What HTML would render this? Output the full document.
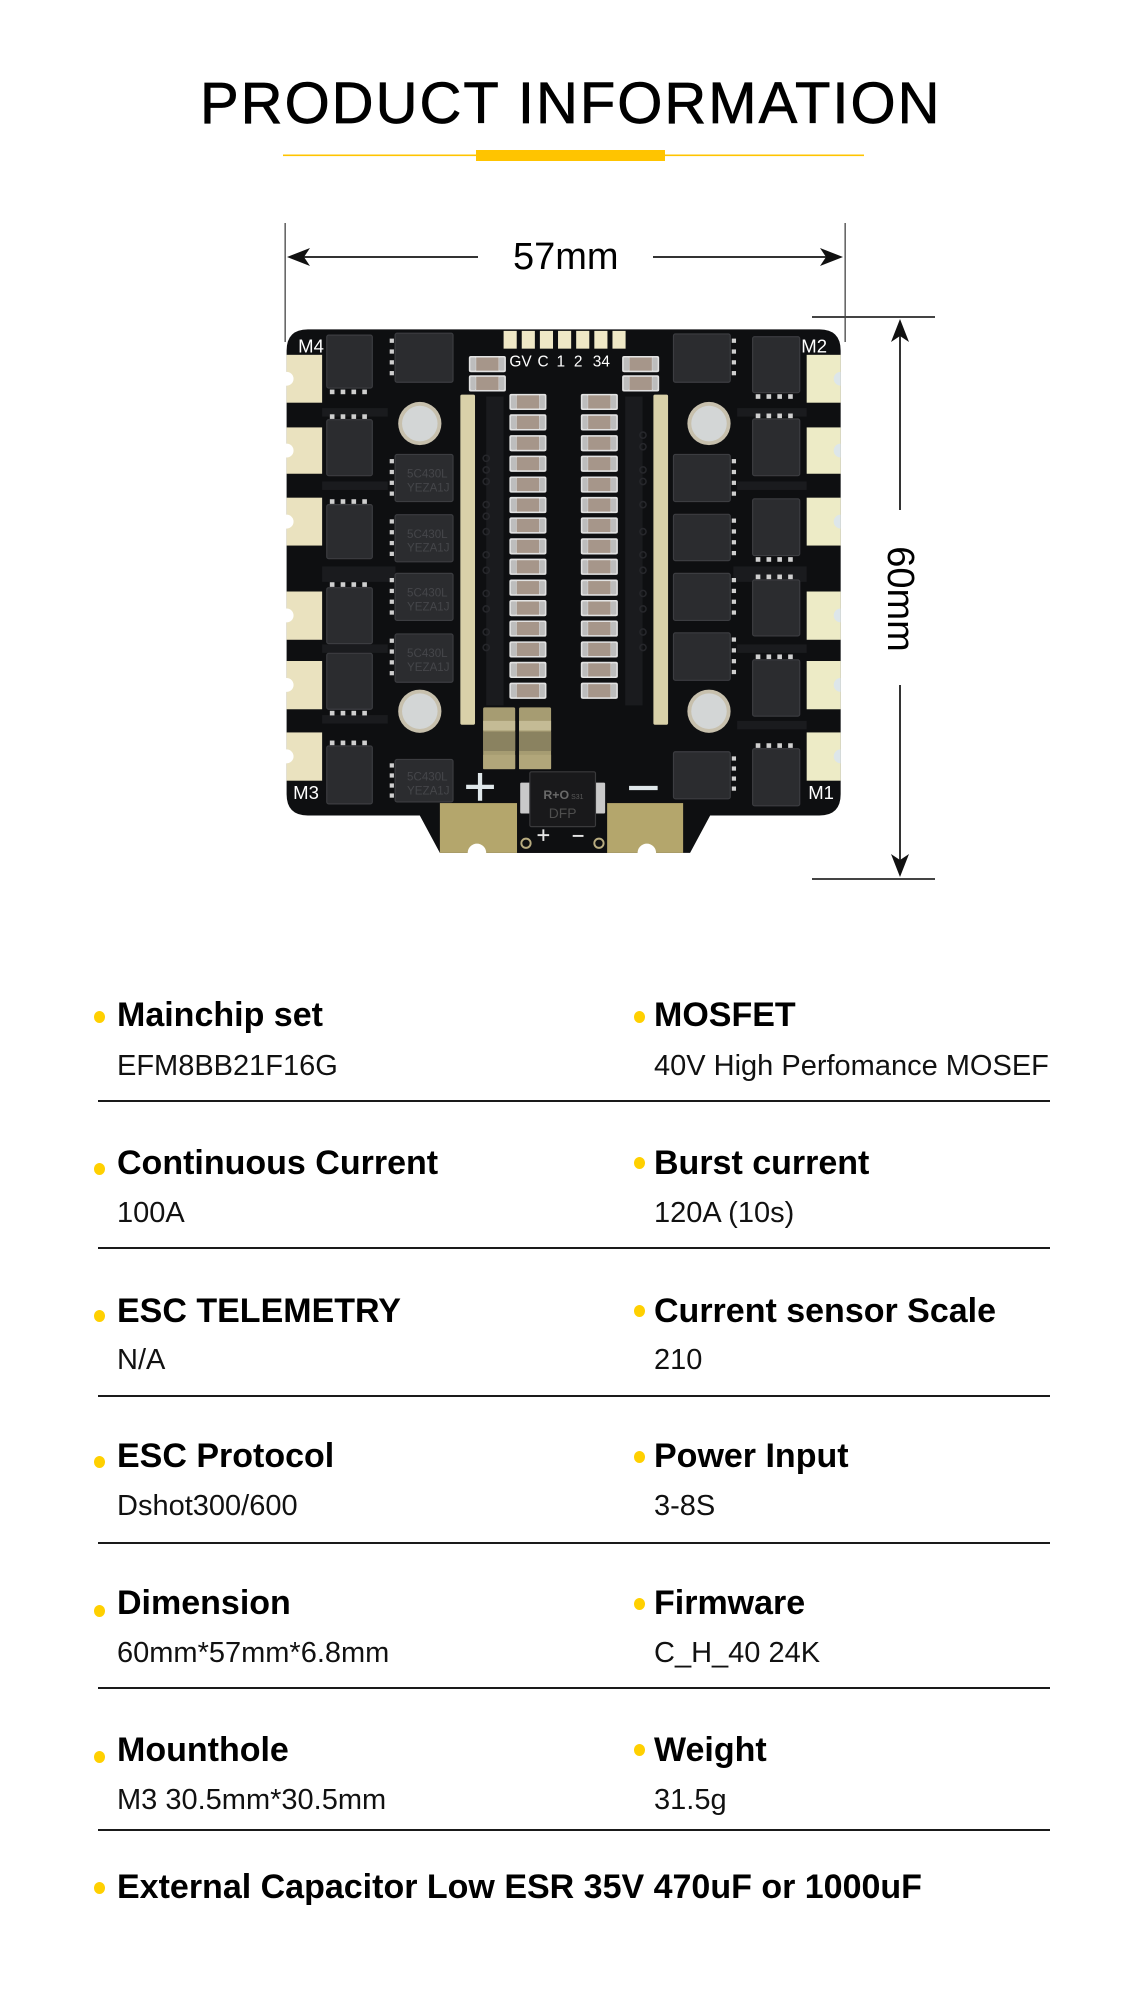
<!DOCTYPE html>
<html><head><meta charset="utf-8">
<style>
html,body{margin:0;padding:0;background:#fff;}
body{width:1138px;height:2011px;position:relative;overflow:hidden;font-family:"Liberation Sans",Arial,sans-serif;color:#000;}
.a{position:absolute;white-space:nowrap;}
.lab{font-weight:bold;font-size:34px;line-height:34px;}
.val{font-size:29px;line-height:29px;color:#111;}
.dot{position:absolute;width:11px;height:12px;border-radius:50%;background:#FFD000;}
.hr{position:absolute;left:98px;width:952px;height:1.5px;background:#1a1a1a;}
</style></head>
<body>

<div class="a" style="left:200px;top:75px;font-size:58px;line-height:58px;letter-spacing:2px;-webkit-text-stroke:0.7px #000;">PRODUCT INFORMATION</div>

<svg class="a" style="left:0;top:0" width="1138" height="900" viewBox="0 0 1138 900">
  <rect x="283" y="154.5" width="581" height="1.6" fill="#FFC400"/>
  <rect x="476" y="150" width="189" height="11" fill="#FFC400"/>
  <rect x="284.5" y="223" width="1.3" height="119" fill="#444"/>
  <rect x="844.5" y="223" width="1.3" height="119" fill="#444"/>
  <rect x="295" y="256" width="183" height="2" fill="#333"/>
  <rect x="653" y="256" width="180" height="2" fill="#333"/>
  <polygon points="287,257 310,248 304,257 310,266" fill="#111"/>
  <polygon points="843,257 820,248 826,257 820,266" fill="#111"/>
  <rect x="812" y="316" width="123" height="2" fill="#444"/>
  <rect x="812" y="878" width="123" height="2" fill="#444"/>
  <rect x="899" y="330" width="2" height="180" fill="#333"/>
  <rect x="899" y="685" width="2" height="182" fill="#333"/>
  <polygon points="900,319 891,342 900,336 909,342" fill="#111"/>
  <polygon points="900,877 891,854 900,860 909,854" fill="#111"/>
</svg>

<div class="a" style="left:513px;top:238px;font-size:38px;line-height:38px;">57mm</div>
<div class="a" style="left:847px;top:580px;width:106px;height:38px;font-size:38px;line-height:38px;text-align:center;transform:rotate(90deg);transform-origin:53px 19px;">60mm</div>

<svg class="a" style="left:270px;top:300px" width="600" height="600" viewBox="0 0 1554 1554">
  <defs>
    <g id="cap">
      <rect x="0" y="0" width="96" height="42" rx="5" fill="#e2e2e2"/>
      <rect x="4" y="4" width="14" height="34" rx="3" fill="#bdbdbd"/>
      <rect x="78" y="4" width="14" height="34" rx="3" fill="#bdbdbd"/>
      <rect x="19" y="4" width="58" height="34" fill="#a6968a"/>
    </g>
  </defs>
  <path d="M98,76 H1423 Q1478,76 1478,131 V1280 Q1478,1335 1423,1335 H1140 L1088,1432 H440 L388,1335 H98 Q43,1335 43,1280 V131 Q43,76 98,76 Z" fill="#0e0f11"/>
  <g fill="#1a1b1e">
    <rect x="135" y="280" width="170" height="22"/>
    <rect x="135" y="470" width="170" height="22"/>
    <rect x="135" y="690" width="190" height="40"/>
    <rect x="135" y="892" width="170" height="22"/>
    <rect x="135" y="1075" width="170" height="22"/>
    <rect x="1210" y="280" width="180" height="22"/>
    <rect x="1210" y="470" width="180" height="22"/>
    <rect x="1200" y="690" width="190" height="40"/>
    <rect x="1210" y="892" width="180" height="22"/>
    <rect x="1210" y="1090" width="180" height="22"/>
    <rect x="560" y="250" width="45" height="800"/>
    <rect x="920" y="250" width="45" height="800"/>
  </g>
  <g fill="none" stroke="#26272b" stroke-width="4">
    <circle cx="560" cy="410" r="8"/><circle cx="560" cy="440" r="8"/><circle cx="560" cy="470" r="8"/><circle cx="560" cy="530" r="8"/><circle cx="560" cy="560" r="8"/><circle cx="560" cy="600" r="8"/><circle cx="560" cy="660" r="8"/><circle cx="560" cy="700" r="8"/><circle cx="560" cy="760" r="8"/><circle cx="560" cy="800" r="8"/><circle cx="560" cy="860" r="8"/><circle cx="560" cy="900" r="8"/>
    <circle cx="966" cy="350" r="8"/><circle cx="966" cy="380" r="8"/><circle cx="966" cy="440" r="8"/><circle cx="966" cy="470" r="8"/><circle cx="966" cy="530" r="8"/><circle cx="966" cy="600" r="8"/><circle cx="966" cy="660" r="8"/><circle cx="966" cy="700" r="8"/><circle cx="966" cy="760" r="8"/><circle cx="966" cy="800" r="8"/><circle cx="966" cy="860" r="8"/><circle cx="966" cy="900" r="8"/>
  </g>
  <g fill="#eae2bf">
    <rect x="43" y="142" width="92" height="124"/>
    <rect x="43" y="330" width="92" height="120"/>
    <rect x="43" y="512" width="92" height="124"/>
    <rect x="43" y="755" width="92" height="125"/>
    <rect x="43" y="935" width="92" height="125"/>
    <rect x="43" y="1120" width="92" height="125"/>
  </g>
  <g fill="#edebc6">
    <rect x="1390" y="142" width="88" height="124"/>
    <rect x="1390" y="330" width="88" height="120"/>
    <rect x="1390" y="512" width="88" height="124"/>
    <rect x="1390" y="755" width="88" height="125"/>
    <rect x="1390" y="935" width="88" height="125"/>
    <rect x="1390" y="1120" width="88" height="125"/>
  </g>
  <g fill="#ffffff">
    <circle cx="43" cy="204" r="18"/><circle cx="43" cy="390" r="18"/><circle cx="43" cy="574" r="18"/>
    <circle cx="43" cy="817" r="18"/><circle cx="43" cy="997" r="18"/><circle cx="43" cy="1182" r="18"/>
  </g>
  <g fill="#dde6ea">
    <path d="M1478,186 A18,18 0 0 0 1478,222 Z"/>
    <path d="M1478,372 A18,18 0 0 0 1478,408 Z"/>
    <path d="M1478,556 A18,18 0 0 0 1478,592 Z"/>
    <path d="M1478,799 A18,18 0 0 0 1478,835 Z"/>
    <path d="M1478,979 A18,18 0 0 0 1478,1015 Z"/>
    <path d="M1478,1164 A18,18 0 0 0 1478,1200 Z"/>
  </g>
  <g fill="#2b2c2f" stroke="#3c3d41" stroke-width="3">
    <rect x="147" y="91" width="118" height="137" rx="5"/>
    <rect x="147" y="310" width="118" height="145" rx="5"/>
    <rect x="147" y="530" width="118" height="140" rx="5"/>
    <rect x="147" y="745" width="118" height="145" rx="5"/>
    <rect x="147" y="915" width="118" height="145" rx="5"/>
    <rect x="147" y="1155" width="118" height="150" rx="5"/>
    <rect x="324" y="86" width="150" height="127" rx="5"/>
    <rect x="324" y="400" width="150" height="122" rx="5"/>
    <rect x="324" y="556" width="150" height="122" rx="5"/>
    <rect x="324" y="708" width="150" height="122" rx="5"/>
    <rect x="324" y="865" width="150" height="125" rx="5"/>
    <rect x="324" y="1190" width="150" height="110" rx="5"/>
    <rect x="1045" y="88" width="147" height="125" rx="5"/>
    <rect x="1045" y="400" width="147" height="122" rx="5"/>
    <rect x="1045" y="555" width="147" height="120" rx="5"/>
    <rect x="1045" y="708" width="147" height="122" rx="5"/>
    <rect x="1045" y="862" width="147" height="123" rx="5"/>
    <rect x="1045" y="1170" width="147" height="122" rx="5"/>
    <rect x="1250" y="95" width="122" height="145" rx="5"/>
    <rect x="1250" y="308" width="122" height="147" rx="5"/>
    <rect x="1250" y="515" width="122" height="147" rx="5"/>
    <rect x="1250" y="725" width="122" height="145" rx="5"/>
    <rect x="1250" y="932" width="122" height="146" rx="5"/>
    <rect x="1250" y="1162" width="122" height="148" rx="5"/>
  </g>
  <g fill="#cfcfcf">
    <rect x="155" y="232" width="12" height="12"/><rect x="183" y="232" width="12" height="12"/><rect x="211" y="232" width="12" height="12"/><rect x="239" y="232" width="12" height="12"/>
    <rect x="155" y="296" width="12" height="12"/><rect x="183" y="296" width="12" height="12"/><rect x="211" y="296" width="12" height="12"/><rect x="239" y="296" width="12" height="12"/>
    <rect x="155" y="516" width="12" height="12"/><rect x="183" y="516" width="12" height="12"/><rect x="211" y="516" width="12" height="12"/><rect x="239" y="516" width="12" height="12"/>
    <rect x="155" y="731" width="12" height="12"/><rect x="183" y="731" width="12" height="12"/><rect x="211" y="731" width="12" height="12"/><rect x="239" y="731" width="12" height="12"/>
    <rect x="155" y="1064" width="12" height="12"/><rect x="183" y="1064" width="12" height="12"/><rect x="211" y="1064" width="12" height="12"/><rect x="239" y="1064" width="12" height="12"/>
    <rect x="155" y="1141" width="12" height="12"/><rect x="183" y="1141" width="12" height="12"/><rect x="211" y="1141" width="12" height="12"/><rect x="239" y="1141" width="12" height="12"/>
    <rect x="310" y="100" width="11" height="11"/><rect x="310" y="128" width="11" height="11"/><rect x="310" y="156" width="11" height="11"/><rect x="310" y="184" width="11" height="11"/>
    <rect x="310" y="412" width="11" height="11"/><rect x="310" y="440" width="11" height="11"/><rect x="310" y="468" width="11" height="11"/><rect x="310" y="496" width="11" height="11"/>
    <rect x="310" y="568" width="11" height="11"/><rect x="310" y="596" width="11" height="11"/><rect x="310" y="624" width="11" height="11"/><rect x="310" y="652" width="11" height="11"/>
    <rect x="310" y="720" width="11" height="11"/><rect x="310" y="748" width="11" height="11"/><rect x="310" y="776" width="11" height="11"/><rect x="310" y="804" width="11" height="11"/>
    <rect x="310" y="877" width="11" height="11"/><rect x="310" y="905" width="11" height="11"/><rect x="310" y="933" width="11" height="11"/><rect x="310" y="961" width="11" height="11"/>
    <rect x="310" y="1200" width="11" height="11"/><rect x="310" y="1226" width="11" height="11"/><rect x="310" y="1252" width="11" height="11"/><rect x="310" y="1278" width="11" height="11"/>
    <rect x="1196" y="100" width="11" height="11"/><rect x="1196" y="128" width="11" height="11"/><rect x="1196" y="156" width="11" height="11"/><rect x="1196" y="184" width="11" height="11"/>
    <rect x="1196" y="412" width="11" height="11"/><rect x="1196" y="440" width="11" height="11"/><rect x="1196" y="468" width="11" height="11"/><rect x="1196" y="496" width="11" height="11"/>
    <rect x="1196" y="566" width="11" height="11"/><rect x="1196" y="594" width="11" height="11"/><rect x="1196" y="622" width="11" height="11"/><rect x="1196" y="650" width="11" height="11"/>
    <rect x="1196" y="720" width="11" height="11"/><rect x="1196" y="748" width="11" height="11"/><rect x="1196" y="776" width="11" height="11"/><rect x="1196" y="804" width="11" height="11"/>
    <rect x="1196" y="874" width="11" height="11"/><rect x="1196" y="902" width="11" height="11"/><rect x="1196" y="930" width="11" height="11"/><rect x="1196" y="958" width="11" height="11"/>
    <rect x="1196" y="1182" width="11" height="11"/><rect x="1196" y="1208" width="11" height="11"/><rect x="1196" y="1234" width="11" height="11"/><rect x="1196" y="1260" width="11" height="11"/>
    <rect x="1258" y="244" width="12" height="12"/><rect x="1286" y="244" width="12" height="12"/><rect x="1314" y="244" width="12" height="12"/><rect x="1342" y="244" width="12" height="12"/>
    <rect x="1258" y="294" width="12" height="12"/><rect x="1286" y="294" width="12" height="12"/><rect x="1314" y="294" width="12" height="12"/><rect x="1342" y="294" width="12" height="12"/>
    <rect x="1258" y="666" width="12" height="12"/><rect x="1286" y="666" width="12" height="12"/><rect x="1314" y="666" width="12" height="12"/><rect x="1342" y="666" width="12" height="12"/>
    <rect x="1258" y="711" width="12" height="12"/><rect x="1286" y="711" width="12" height="12"/><rect x="1314" y="711" width="12" height="12"/><rect x="1342" y="711" width="12" height="12"/>
    <rect x="1258" y="918" width="12" height="12"/><rect x="1286" y="918" width="12" height="12"/><rect x="1314" y="918" width="12" height="12"/><rect x="1342" y="918" width="12" height="12"/>
    <rect x="1258" y="1148" width="12" height="12"/><rect x="1286" y="1148" width="12" height="12"/><rect x="1314" y="1148" width="12" height="12"/><rect x="1342" y="1148" width="12" height="12"/>
  </g>
  <g fill="#45464a" font-family="Liberation Sans, sans-serif" font-size="30">
    <text x="355" y="460">5C430L</text><text x="355" y="496">YEZA1J</text>
    <text x="355" y="616">5C430L</text><text x="355" y="652">YEZA1J</text>
    <text x="355" y="768">5C430L</text><text x="355" y="804">YEZA1J</text>
    <text x="355" y="925">5C430L</text><text x="355" y="961">YEZA1J</text>
    <text x="355" y="1245">5C430L</text><text x="355" y="1281">YEZA1J</text>
  </g>
  <g>
    <circle cx="388" cy="320" r="56" fill="#c7c0ad"/><circle cx="388" cy="320" r="46" fill="#d3d6d6"/>
    <circle cx="1137" cy="320" r="56" fill="#c7c0ad"/><circle cx="1137" cy="320" r="46" fill="#d3d6d6"/>
    <circle cx="388" cy="1065" r="56" fill="#c7c0ad"/><circle cx="388" cy="1065" r="46" fill="#d3d6d6"/>
    <circle cx="1137" cy="1065" r="56" fill="#c7c0ad"/><circle cx="1137" cy="1065" r="46" fill="#d3d6d6"/>
  </g>
  <rect x="493" y="245" width="38" height="855" rx="4" fill="#d9d1a9"/>
  <rect x="993" y="245" width="38" height="855" rx="4" fill="#d9d1a9"/>
  <g fill="#efe8c6">
    <rect x="605" y="80" width="34" height="46"/><rect x="652" y="80" width="34" height="46"/><rect x="699" y="80" width="34" height="46"/>
    <rect x="746" y="80" width="34" height="46"/><rect x="793" y="80" width="34" height="46"/><rect x="840" y="80" width="34" height="46"/>
    <rect x="887" y="80" width="34" height="46"/>
  </g>
  <g fill="#ffffff" font-family="Liberation Sans, sans-serif" font-size="40">
    <text x="620" y="172">GV</text><text x="693" y="172">C</text><text x="742" y="172">1</text><text x="787" y="172">2</text><text x="836" y="172">34</text>
    <text x="73" y="136" font-size="48">M4</text>
    <text x="1376" y="136" font-size="48">M2</text>
    <text x="60" y="1292" font-size="48">M3</text>
    <text x="1394" y="1292" font-size="48">M1</text>
  </g>
  <use href="#cap" x="515" y="145"/><use href="#cap" x="515" y="195"/>
  <use href="#cap" x="912" y="145"/><use href="#cap" x="912" y="195"/>
  <use href="#cap" x="620" y="243"/><use href="#cap" x="620" y="296"/><use href="#cap" x="620" y="350"/><use href="#cap" x="620" y="403"/><use href="#cap" x="620" y="457"/>
  <use href="#cap" x="620" y="510"/><use href="#cap" x="620" y="563"/><use href="#cap" x="620" y="617"/><use href="#cap" x="620" y="670"/><use href="#cap" x="620" y="724"/>
  <use href="#cap" x="620" y="777"/><use href="#cap" x="620" y="830"/><use href="#cap" x="620" y="884"/><use href="#cap" x="620" y="937"/><use href="#cap" x="620" y="991"/>
  <use href="#cap" x="805" y="243"/><use href="#cap" x="805" y="296"/><use href="#cap" x="805" y="350"/><use href="#cap" x="805" y="403"/><use href="#cap" x="805" y="457"/>
  <use href="#cap" x="805" y="510"/><use href="#cap" x="805" y="563"/><use href="#cap" x="805" y="617"/><use href="#cap" x="805" y="670"/><use href="#cap" x="805" y="724"/>
  <use href="#cap" x="805" y="777"/><use href="#cap" x="805" y="830"/><use href="#cap" x="805" y="884"/><use href="#cap" x="805" y="937"/><use href="#cap" x="805" y="991"/>
  <rect x="552" y="1055" width="83" height="160" rx="4" fill="#a69c72"/>
  <rect x="552" y="1090" width="83" height="25" fill="#c4bb95"/>
  <rect x="552" y="1118" width="83" height="50" fill="#8a8260"/>
  <rect x="552" y="1178" width="83" height="37" fill="#b1a67a"/>
  <rect x="645" y="1055" width="83" height="160" rx="4" fill="#a69c72"/>
  <rect x="645" y="1090" width="83" height="25" fill="#c4bb95"/>
  <rect x="645" y="1118" width="83" height="50" fill="#8a8260"/>
  <rect x="645" y="1178" width="83" height="37" fill="#b1a67a"/>
  <rect x="440" y="1303" width="200" height="129" fill="#b4a66c"/>
  <rect x="873" y="1303" width="197" height="129" fill="#b4a66c"/>
  <circle cx="536" cy="1432" r="24" fill="#ffffff"/>
  <circle cx="976" cy="1432" r="24" fill="#ffffff"/>
  <rect x="640" y="1300" width="233" height="132" fill="#0e0f11"/>
  <rect x="648" y="1250" width="28" height="80" rx="3" fill="#c9c9c9"/>
  <rect x="840" y="1250" width="28" height="80" rx="3" fill="#c9c9c9"/>
  <rect x="673" y="1222" width="170" height="142" rx="4" fill="#19191b" stroke="#3a3a3c" stroke-width="3"/>
  <text x="708" y="1292" fill="#6a6a6a" font-family="Liberation Sans, sans-serif" font-size="32" font-weight="bold">R+O</text>
  <text x="780" y="1292" fill="#5a5a5a" font-family="Liberation Sans, sans-serif" font-size="18">S31</text>
  <text x="722" y="1342" fill="#4e4e4e" font-family="Liberation Sans, sans-serif" font-size="36">DFP</text>
  <g stroke="#dfe7ea" stroke-width="11" stroke-linecap="butt">
    <line x1="508" y1="1261" x2="580" y2="1261"/><line x1="544" y1="1225" x2="544" y2="1297"/>
    <line x1="930" y1="1264" x2="1004" y2="1264"/>
  </g>
  <g stroke="#e5e5e5" stroke-width="5">
    <line x1="693" y1="1386" x2="723" y2="1386"/><line x1="708" y1="1371" x2="708" y2="1401"/>
    <line x1="784" y1="1388" x2="812" y2="1388"/>
  </g>
  <circle cx="663" cy="1407" r="12" fill="none" stroke="#b8ac80" stroke-width="5"/>
  <circle cx="852" cy="1407" r="12" fill="none" stroke="#b8ac80" stroke-width="5"/>
</svg>

<div class="dot" style="left:94px;top:1011px"></div>
<div class="a lab" style="left:117px;top:998px">Mainchip set</div>
<div class="a val" style="left:117px;top:1052px">EFM8BB21F16G</div>
<div class="dot" style="left:634px;top:1011px"></div>
<div class="a lab" style="left:654px;top:998px">MOSFET</div>
<div class="a val" style="left:654px;top:1052px">40V High Perfomance MOSEF</div>
<div class="hr" style="top:1100px"></div>

<div class="dot" style="left:94px;top:1163px"></div>
<div class="a lab" style="left:117px;top:1146px">Continuous Current</div>
<div class="a val" style="left:117px;top:1199px">100A</div>
<div class="dot" style="left:634px;top:1157px"></div>
<div class="a lab" style="left:654px;top:1146px">Burst current</div>
<div class="a val" style="left:654px;top:1199px">120A (10s)</div>
<div class="hr" style="top:1247px"></div>

<div class="dot" style="left:94px;top:1310px"></div>
<div class="a lab" style="left:117px;top:1294px">ESC TELEMETRY</div>
<div class="a val" style="left:117px;top:1346px">N/A</div>
<div class="dot" style="left:634px;top:1305px"></div>
<div class="a lab" style="left:654px;top:1294px">Current sensor Scale</div>
<div class="a val" style="left:654px;top:1346px">210</div>
<div class="hr" style="top:1395px"></div>

<div class="dot" style="left:94px;top:1456px"></div>
<div class="a lab" style="left:117px;top:1439px">ESC Protocol</div>
<div class="a val" style="left:117px;top:1492px">Dshot300/600</div>
<div class="dot" style="left:634px;top:1451px"></div>
<div class="a lab" style="left:654px;top:1439px">Power Input</div>
<div class="a val" style="left:654px;top:1492px">3-8S</div>
<div class="hr" style="top:1542px"></div>

<div class="dot" style="left:94px;top:1605px"></div>
<div class="a lab" style="left:117px;top:1586px">Dimension</div>
<div class="a val" style="left:117px;top:1639px">60mm*57mm*6.8mm</div>
<div class="dot" style="left:634px;top:1598px"></div>
<div class="a lab" style="left:654px;top:1586px">Firmware</div>
<div class="a val" style="left:654px;top:1639px">C_H_40 24K</div>
<div class="hr" style="top:1687px"></div>

<div class="dot" style="left:94px;top:1751px"></div>
<div class="a lab" style="left:117px;top:1733px">Mounthole</div>
<div class="a val" style="left:117px;top:1786px">M3 30.5mm*30.5mm</div>
<div class="dot" style="left:634px;top:1744px"></div>
<div class="a lab" style="left:654px;top:1733px">Weight</div>
<div class="a val" style="left:654px;top:1786px">31.5g</div>
<div class="hr" style="top:1829px"></div>

<div class="dot" style="left:94px;top:1882px"></div>
<div class="a lab" style="left:117px;top:1870px">External Capacitor Low ESR 35V 470uF or 1000uF</div>

</body></html>
